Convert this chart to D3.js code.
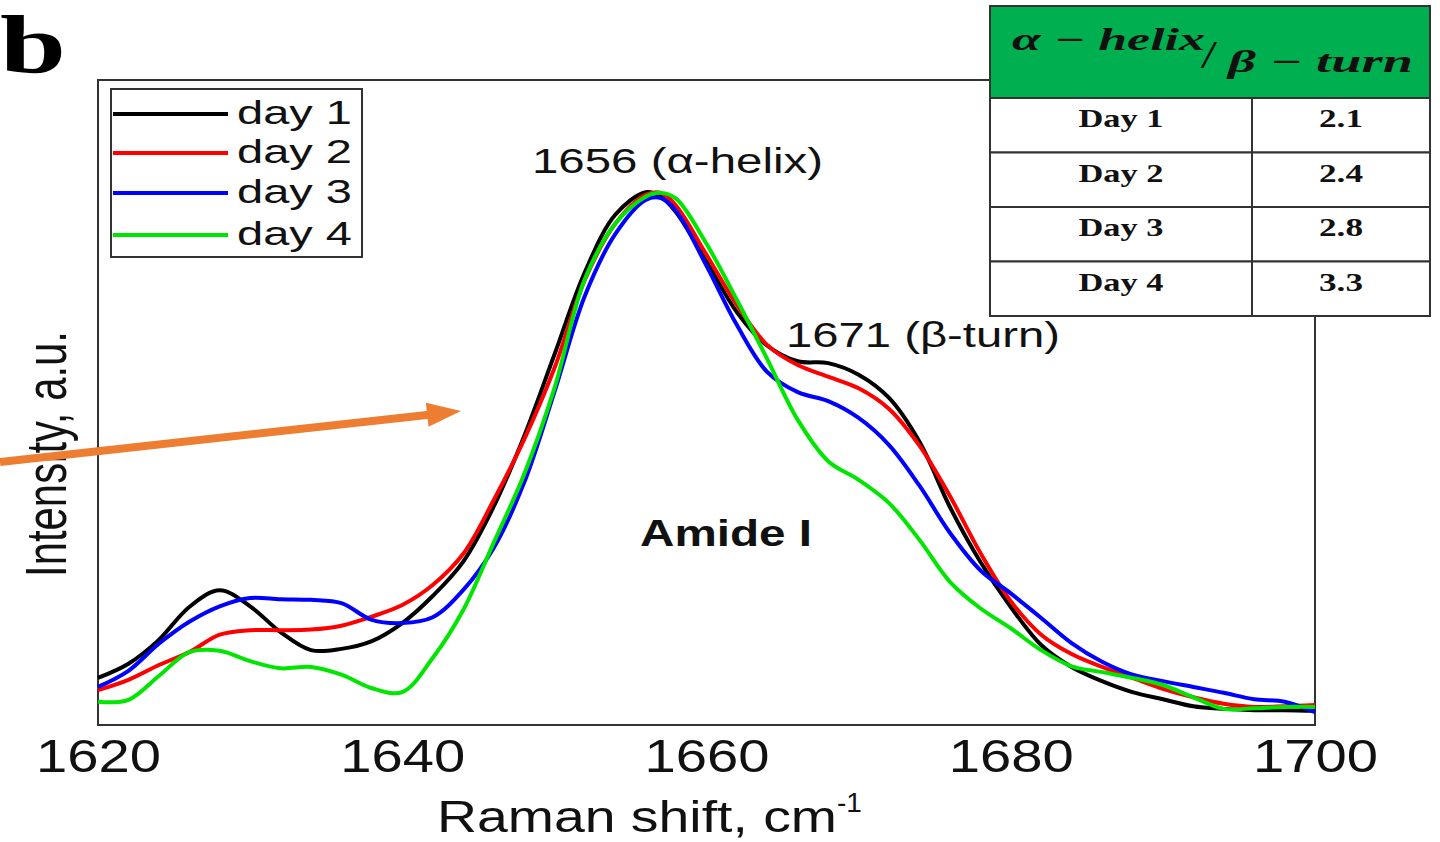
<!DOCTYPE html>
<html>
<head>
<meta charset="utf-8">
<script src="https://cdn.jsdelivr.net/npm/d3@7"></script>
<style>
  body { margin: 0; background: #fff; }
  svg { display: block; }
</style>
</head>
<body>
<svg width="1440" height="842"></svg>
<script>
// Raman amide I band, day 1 .. day 4

var shift = [1620, 1622, 1624, 1626, 1628, 1630, 1632, 1634, 1636, 1638,
             1640, 1642, 1644, 1646, 1648, 1650, 1652, 1654, 1656, 1657, 1658,
             1660, 1662, 1664, 1666, 1668, 1670, 1672, 1674, 1676, 1678,
             1680, 1682, 1684, 1686, 1688, 1690, 1692, 1694, 1696, 1698, 1700];

var day1 = [7.3, 9.5, 13.2, 18.3, 20.9, 18.4, 14.4, 11.6, 11.8, 13.0,
            15.8, 20.0, 25.3, 33.8, 44.7, 57.4, 70.2, 79.1, 82.6, 81.9, 79.5,
            71.9, 64.0, 58.8, 56.4, 56.1, 54.3, 50.7, 43.9, 33.8, 25.3,
            18.3, 12.4, 9.0, 6.8, 5.1, 4.0, 2.9, 2.5, 2.3, 2.3, 2.2];
var day2 = [5.4, 7.0, 9.3, 11.3, 14.0, 14.7, 14.7, 14.8, 15.4, 16.8,
            18.6, 21.7, 26.5, 34.8, 44.2, 55.3, 69.0, 77.7, 82.2, 82.5, 80.5,
            72.9, 65.1, 58.9, 55.8, 54.0, 52.2, 49.0, 43.3, 35.5, 26.7,
            19.2, 14.0, 11.0, 9.0, 7.3, 5.6, 4.3, 3.3, 2.8, 2.9, 3.1];
var day3 = [5.9, 8.4, 12.6, 16.0, 18.4, 19.7, 19.5, 19.4, 18.9, 16.3,
            15.8, 16.7, 20.9, 27.4, 37.5, 51.6, 66.5, 76.1, 81.4, 81.7, 79.7,
            71.2, 62.0, 54.7, 51.6, 50.2, 47.6, 43.4, 37.1, 29.8, 24.0,
            20.4, 16.6, 12.7, 9.8, 7.8, 6.8, 5.9, 5.0, 4.0, 3.6, 2.0];
var day4 = [3.6, 3.9, 7.6, 11.3, 11.5, 9.9, 8.8, 9.0, 7.8, 5.7,
            5.1, 10.4, 17.8, 28.2, 38.8, 52.2, 69.1, 77.7, 81.9, 82.5, 81.6,
            74.6, 65.9, 56.7, 47.3, 40.9, 38.0, 34.4, 28.7, 22.2, 18.1,
            15.0, 11.6, 9.1, 8.2, 7.3, 6.2, 4.3, 2.5, 2.6, 2.8, 2.8];

var seriesNames = ['day 1', 'day 2', 'day 3', 'day 4'];
var seriesColors = ['#000000', '#ff0000', '#0000ff', '#00e600'];
var xTicks = [1620, 1640, 1660, 1680, 1700];

// inset table
var tableDays = ['Day 1', 'Day 2', 'Day 3', 'Day 4'];
var tableRatios = [2.1, 2.4, 2.8, 3.3];

var pic = d3.select('svg');
var sans = 'Liberation Sans, Arial, sans-serif';
var serif = 'Liberation Serif, Times New Roman, serif';

// plot frame in px (not "top"/"left": those clash with window props)
var plotL = 98, plotR = 1315, plotT = 80, plotB = 725;

var x = d3.scaleLinear().domain([1620, 1700]).range([plotL, plotR]);
var y = d3.scaleLinear().domain([0, 100]).range([plotB, plotT]);

// panel letter
pic.append('text').attr('x', 0).attr('y', 72)
  .attr('font-family', serif).attr('font-weight', 'bold')
  .attr('font-size', 82).attr('textLength', 66).attr('lengthAdjust', 'spacingAndGlyphs')
  .text('b');

// frame
pic.append('rect').attr('x', plotL).attr('y', plotT)
  .attr('width', plotR - plotL).attr('height', plotB - plotT)
  .attr('fill', 'none').attr('stroke', '#333').attr('stroke-width', 2);

// curves
var allDays = [day1, day2, day3, day4];
var line = d3.line()
  .x(function(d, i) { return x(shift[i]); })
  .y(function(d) { return y(d); })
  .curve(d3.curveCatmullRom.alpha(0.5));

allDays.forEach(function(vals, k) {
  pic.append('path').attr('d', line(vals))
    .attr('fill', 'none').attr('stroke', seriesColors[k])
    .attr('stroke-width', 4).attr('stroke-linejoin', 'round');
});

// x axis (labels only, frame draws the line)
var xAxis = d3.axisBottom(x).tickValues(xTicks).tickSize(0).tickFormat(d3.format('d'));
var gx = pic.append('g').attr('transform', 'translate(0,' + plotB + ')').call(xAxis);
gx.select('.domain').remove();
gx.selectAll('text')
  .attr('y', 47).attr('dy', 0)
  .attr('font-family', sans).attr('font-size', 47).attr('fill', '#111')
  .attr('textLength', 125).attr('lengthAdjust', 'spacingAndGlyphs');

// axis titles
var xt = pic.append('text').attr('x', 437).attr('y', 832)
  .attr('font-family', sans).attr('font-size', 44).attr('fill', '#111');
xt.append('tspan').attr('textLength', 400).attr('lengthAdjust', 'spacingAndGlyphs').text('Raman shift, cm');
xt.append('tspan').attr('dy', -20).attr('font-size', 28).text('-1');

pic.append('text')
  .attr('transform', 'translate(66,454) rotate(-90)')
  .attr('text-anchor', 'middle')
  .attr('font-family', sans).attr('font-size', 58).attr('fill', '#111')
  .attr('textLength', 246).attr('lengthAdjust', 'spacingAndGlyphs')
  .text('Intensity, a.u.');

// legend
pic.append('rect').attr('x', 111).attr('y', 89).attr('width', 251).attr('height', 168)
  .attr('fill', '#fff').attr('stroke', '#333').attr('stroke-width', 2);
var legendY = [114, 153, 193, 235];
seriesNames.forEach(function(name, k) {
  pic.append('line').attr('x1', 113).attr('x2', 228)
    .attr('y1', legendY[k]).attr('y2', legendY[k])
    .attr('stroke', seriesColors[k]).attr('stroke-width', 4);
  pic.append('text').attr('x', 237).attr('y', legendY[k] + 10)
    .attr('font-family', sans).attr('font-size', 34).attr('fill', '#111')
    .attr('textLength', 115).attr('lengthAdjust', 'spacingAndGlyphs')
    .text(name);
});

// peak labels
pic.append('text').attr('x', 532).attr('y', 173)
  .attr('font-family', sans).attr('font-size', 35).attr('fill', '#111')
  .attr('textLength', 291).attr('lengthAdjust', 'spacingAndGlyphs')
  .text('1656 (\u03b1-helix)');
pic.append('text').attr('x', 786).attr('y', 347)
  .attr('font-family', sans).attr('font-size', 35).attr('fill', '#111')
  .attr('textLength', 274).attr('lengthAdjust', 'spacingAndGlyphs')
  .text('1671 (\u03b2-turn)');
pic.append('text').attr('x', 640).attr('y', 546)
  .attr('font-family', sans).attr('font-weight', 'bold').attr('font-size', 36).attr('fill', '#111')
  .attr('textLength', 172).attr('lengthAdjust', 'spacingAndGlyphs')
  .text('Amide I');

// orange arrow
var ax1 = 0, ay1 = 462, ax2 = 461, ay2 = 411;
var ang = Math.atan2(ay2 - ay1, ax2 - ax1);
var headLen = 34, headW = 12;
var bx = ax2 - headLen * Math.cos(ang), by = ay2 - headLen * Math.sin(ang);
pic.append('line').attr('x1', ax1).attr('y1', ay1).attr('x2', bx + 2).attr('y2', by)
  .attr('stroke', '#ed7d31').attr('stroke-width', 8);
pic.append('polygon')
  .attr('points', [
    [ax2, ay2],
    [bx + headW * Math.sin(ang), by - headW * Math.cos(ang)],
    [bx - headW * Math.sin(ang), by + headW * Math.cos(ang)]
  ].map(function(p) { return p.join(','); }).join(' '))
  .attr('fill', '#ed7d31');

// table
var tx0 = 990, tx1 = 1252, tx2 = 1430;
var headTop = 6, headBot = 98, rowH = 54.5;
pic.append('rect').attr('x', tx0).attr('y', headTop).attr('width', tx2 - tx0).attr('height', headBot - headTop)
  .attr('fill', '#00b050').attr('stroke', '#333').attr('stroke-width', 2);
var hdr = pic.append('text').attr('font-family', serif).attr('font-style', 'italic')
  .attr('font-weight', 'bold').attr('font-size', 31).attr('fill', '#111');
hdr.append('tspan').attr('x', 1012).attr('y', 50)
  .attr('textLength', 193).attr('lengthAdjust', 'spacingAndGlyphs').text('\u03b1 \u2212 helix');
hdr.append('tspan').attr('x', 1203).attr('y', 68).attr('font-size', 40).text('/');
hdr.append('tspan').attr('x', 1228).attr('y', 72)
  .attr('textLength', 185).attr('lengthAdjust', 'spacingAndGlyphs').text('\u03b2 \u2212 turn');

tableDays.forEach(function(d, i) {
  var ry = headBot + i * rowH;
  pic.append('rect').attr('x', tx0).attr('y', ry).attr('width', tx1 - tx0).attr('height', rowH)
    .attr('fill', '#fff').attr('stroke', '#333').attr('stroke-width', 2);
  pic.append('rect').attr('x', tx1).attr('y', ry).attr('width', tx2 - tx1).attr('height', rowH)
    .attr('fill', '#fff').attr('stroke', '#333').attr('stroke-width', 2);
  pic.append('text').attr('x', (tx0 + tx1) / 2).attr('y', ry + 29)
    .attr('text-anchor', 'middle').attr('font-family', serif).attr('font-weight', 'bold')
    .attr('font-size', 26).attr('fill', '#111')
    .attr('textLength', 85).attr('lengthAdjust', 'spacingAndGlyphs').text(d);
  pic.append('text').attr('x', (tx1 + tx2) / 2).attr('y', ry + 29)
    .attr('text-anchor', 'middle').attr('font-family', serif).attr('font-weight', 'bold')
    .attr('font-size', 26).attr('fill', '#111')
    .attr('textLength', 44).attr('lengthAdjust', 'spacingAndGlyphs').text(tableRatios[i].toFixed(1));
});
</script>
</body>
</html>
